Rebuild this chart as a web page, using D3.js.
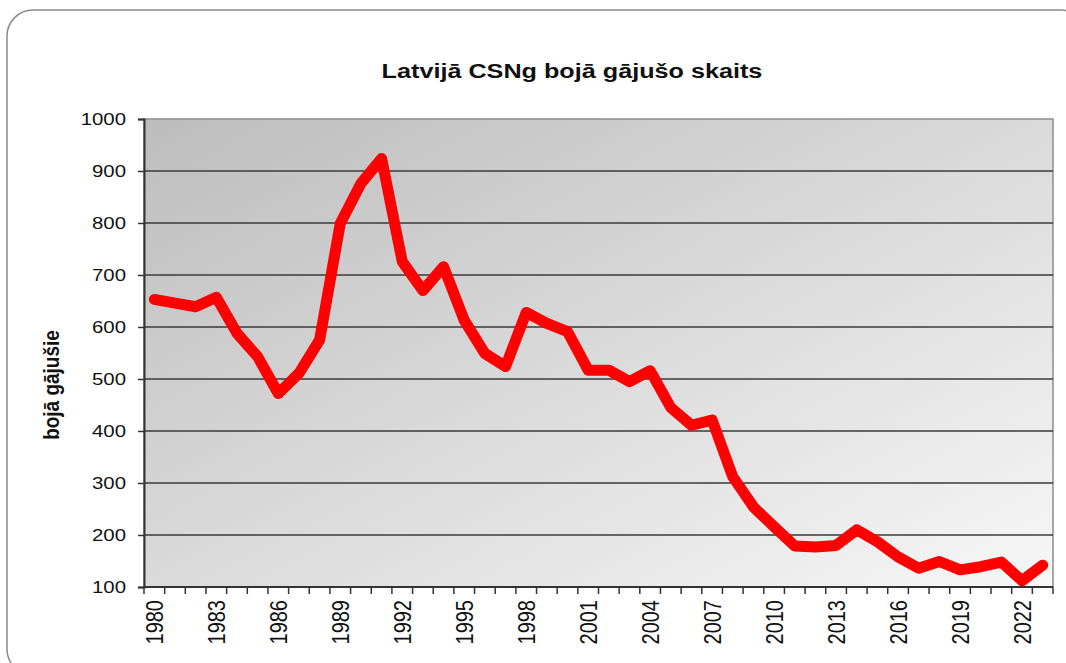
<!DOCTYPE html>
<html>
<head>
<meta charset="utf-8">
<script src="https://cdn.jsdelivr.net/npm/d3@7"></script>
<style>
  body { margin: 0; background: #fff; }
  svg { display: block; font-family: "Liberation Sans", Arial, sans-serif; }
</style>
</head>
<body>
<svg id="chart"></svg>
<script>
// data
const years = d3.range(1980, 2024).map(String);
const deaths = [653, 646, 639, 657, 588, 543, 472, 511, 575, 799,
                876, 924, 726, 670, 716, 613, 549, 524, 628, 607,
                591, 517, 517, 495, 516, 445, 411, 421, 312, 254,
                216, 179, 177, 180, 210, 187, 158, 136, 149, 133,
                139, 148, 112, 142];
const yTicks = [100, 200, 300, 400, 500, 600, 700, 800, 900, 1000];
const title = 'Latvijā CSNg bojā gājušo skaits';
const yTitle = 'bojā gājušie';

const width = 1066, height = 663;
const margin = {top: 119, right: 13, bottom: 76, left: 144};
const innerW = width - margin.left - margin.right;
const innerH = height - margin.top - margin.bottom;
// the original image is stretched sideways, so text is too
const stretch = 1.2;

const svg = d3.select('#chart')
    .attr('width', width)
    .attr('height', height);

// outer rounded frame (runs off the right and bottom)
svg.append('rect')
    .attr('x', 7).attr('y', 10)
    .attr('width', 1080).attr('height', 665)
    .attr('rx', 26)
    .attr('fill', '#fff')
    .attr('stroke', '#8a8a8a')
    .attr('stroke-width', 1.5);

const defs = svg.append('defs');
const grad = defs.append('linearGradient')
    .attr('id', 'bg')
    .attr('x1', '0%').attr('y1', '0%')
    .attr('x2', '100%').attr('y2', '100%');
grad.append('stop').attr('offset', '0%').attr('stop-color', '#bdbdbd');
grad.append('stop').attr('offset', '100%').attr('stop-color', '#f7f7f7');

const x = d3.scaleBand()
    .domain(years)
    .range([0, innerW]);

const y = d3.scaleLinear()
    .domain([100, 1000])
    .range([innerH, 0]);

const g = svg.append('g')
    .attr('transform', `translate(${margin.left},${margin.top})`);

g.append('rect')
    .attr('width', innerW)
    .attr('height', innerH)
    .attr('fill', 'url(#bg)')
    .attr('stroke', '#8c8c8c')
    .attr('stroke-width', 1.5);

// gridlines
g.selectAll('.grid')
    .data(yTicks.filter(d => d > 100 && d < 1000))
  .join('line')
    .attr('class', 'grid')
    .attr('x1', 0).attr('x2', innerW)
    .attr('y1', d => y(d)).attr('y2', d => y(d))
    .attr('stroke', '#3a3a3a')
    .attr('stroke-width', 1.5);

// y axis
const yAxis = g.append('g')
    .call(d3.axisLeft(y).tickValues(yTicks).tickSize(6).tickFormat(d3.format('d')));
yAxis.select('.domain').attr('stroke', '#333').attr('stroke-width', 2);
yAxis.selectAll('.tick line').attr('stroke', '#333').attr('stroke-width', 1.5);
yAxis.selectAll('.tick text')
    .attr('x', null)
    .attr('transform', `translate(-18,0) scale(${stretch},1)`)
    .attr('font-size', 17)
    .attr('fill', '#111')
    .attr('font-family', '"Liberation Sans", Arial, sans-serif');

// x axis: ticks on category boundaries, labels every third year
const xAxisG = g.append('g')
    .attr('transform', `translate(0,${innerH})`);
xAxisG.append('line')
    .attr('x1', 0).attr('x2', innerW)
    .attr('stroke', '#333').attr('stroke-width', 2);
xAxisG.selectAll('.xt')
    .data(years.concat(['end']))
  .join('line')
    .attr('class', 'xt')
    .attr('x1', (d, i) => i * x.bandwidth())
    .attr('x2', (d, i) => i * x.bandwidth())
    .attr('y1', 0).attr('y2', 7)
    .attr('stroke', '#333').attr('stroke-width', 1.5);
xAxisG.selectAll('.xl')
    .data(years.filter((d, i) => i % 3 === 0))
  .join('text')
    .attr('class', 'xl')
    .attr('transform', d => `translate(${x(d) + x.bandwidth() / 2 + 9},13) rotate(-90) scale(1,${stretch})`)
    .attr('text-anchor', 'end')
    .attr('font-size', 20)
    .attr('fill', '#111')
    .text(d => d);

// the line
const line = d3.line()
    .x((d, i) => x(years[i]) + x.bandwidth() / 2)
    .y(d => y(d));

g.append('path')
    .datum(deaths)
    .attr('fill', 'none')
    .attr('stroke', '#ff0000')
    .attr('stroke-width', 11)
    .attr('stroke-linejoin', 'round')
    .attr('stroke-linecap', 'round')
    .attr('d', line);

// titles
svg.append('text')
    .attr('transform', `translate(572,78) scale(${stretch},1)`)
    .attr('text-anchor', 'middle')
    .attr('font-size', 21)
    .attr('font-weight', 'bold')
    .attr('fill', '#111')
    .text(title);

svg.append('text')
    .attr('transform', `translate(59,385) rotate(-90) scale(1,${stretch})`)
    .attr('text-anchor', 'middle')
    .attr('font-size', 19)
    .attr('font-weight', 'bold')
    .attr('fill', '#111')
    .text(yTitle);
</script>
</body>
</html>
